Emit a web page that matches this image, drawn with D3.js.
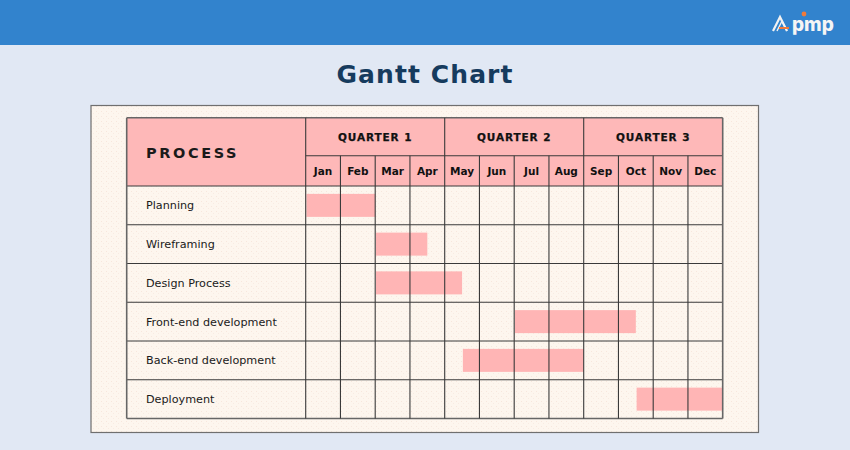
<!DOCTYPE html>
<html>
<head>
<meta charset="utf-8">
<script src="https://cdn.jsdelivr.net/npm/d3@7"></script>
<style>
  html, body { margin: 0; padding: 0; background: #E1E8F4; }
  svg { display: block; }
</style>
</head>
<body>
<svg id="chart" width="850" height="450"></svg>
<script>
// ---- data ----
const title = "Gantt Chart";
const headerLabel = "PROCESS";
const quarters = ["QUARTER 1", "QUARTER 2", "QUARTER 3"];
const months = ["Jan","Feb","Mar","Apr","May","Jun","Jul","Aug","Sep","Oct","Nov","Dec"];
const tasks = ["Planning","Wireframing","Design Process","Front-end development","Back-end development","Deployment"];
const taskStart = [0, 2, 2, 6, 4.5, 9.5];   // in months from Jan start
const taskEnd   = [2, 3.5, 4.5, 9.5, 8, 12];

// ---- layout ----
const svg = d3.select("#chart");
const W = 850, H = 450;
const colors = {
  band: "#3283CD", bg: "#E1E8F4", card: "#FDF6EE", header: "#FEB8B8",
  bar: "#FFB5B5", grid: "#3a3a3a", title: "#163B5E", text: "#1a1a1a"
};

svg.append("rect").attr("width", W).attr("height", H).attr("fill", colors.bg);
svg.append("rect").attr("width", W).attr("height", 45).attr("fill", colors.band);

// logo
const logo = svg.append("g").attr("transform", "translate(773,15)");
logo.append("path").attr("d", "M0,16 L7,2 L14,16").attr("fill", "none").attr("stroke", "#f2f2f2").attr("stroke-width", 2.2);
logo.append("path").attr("d", "M4,16 L9,6 L14,16").attr("fill", "none").attr("stroke", "#f2f2f2").attr("stroke-width", 1.4);
logo.append("rect").attr("x", 6).attr("y", 12).attr("width", 10).attr("height", 2).attr("fill", "#F07A3A");
logo.append("text").attr("x", 19).attr("y", 16).attr("fill", "#f5f5f5")
  .attr("font-family", "Inter, 'DejaVu Sans', sans-serif").attr("font-weight", 800)
  .attr("font-size", 19).text("pmp");
logo.append("circle").attr("cx", 31).attr("cy", -1).attr("r", 2.4).attr("fill", "#F07A3A");

// title
svg.append("text").attr("x", 425).attr("y", 83).attr("text-anchor", "middle")
  .attr("font-family", "'DejaVu Sans', sans-serif").attr("font-weight", 700)
  .attr("font-size", 25).attr("letter-spacing", 1.1).attr("fill", colors.title).text(title);

// card with dotted texture
const defs = svg.append("defs");
const pat = defs.append("pattern").attr("id", "dots").attr("width", 5).attr("height", 5)
  .attr("patternUnits", "userSpaceOnUse");
pat.append("rect").attr("width", 5).attr("height", 5).attr("fill", colors.card);
pat.append("rect").attr("x", 1).attr("y", 1).attr("width", 1).attr("height", 1).attr("fill", "#f7e6dc");
pat.append("rect").attr("x", 3).attr("y", 3).attr("width", 1).attr("height", 1).attr("fill", "#f8ebe2");

svg.append("rect").attr("x", 91).attr("y", 105.5).attr("width", 667.5).attr("height", 327)
  .attr("fill", "url(#dots)").attr("stroke", "#6f6f6f").attr("stroke-width", 1.2);

// table geometry
const tableLeft = 126.7, colX0 = 305.7, colX1 = 722.7;
const topY = 117.7, qBottom = 155.7, headBottom = 186, tableBottom = 418.5;

const x = d3.scaleLinear().domain([0, months.length]).range([colX0, colX1]);
const y = d3.scaleBand().domain(tasks).range([headBottom, tableBottom]);

// header fills
svg.append("rect").attr("x", tableLeft).attr("y", topY).attr("width", colX1 - tableLeft)
  .attr("height", headBottom - topY).attr("fill", colors.header);

// bars
svg.append("g").selectAll("rect").data(tasks).join("rect")
  .attr("x", (d, i) => x(taskStart[i]) + 0.8)
  .attr("width", (d, i) => x(taskEnd[i]) - x(taskStart[i]) - 0.8)
  .attr("y", d => y(d) + y.bandwidth() / 2 - 11.5)
  .attr("height", 23)
  .attr("fill", colors.bar);

// grid lines
const grid = svg.append("g").attr("stroke", colors.grid).attr("stroke-width", 1.1).attr("fill", "none");
grid.append("line").attr("x1", colX0).attr("x2", colX1).attr("y1", qBottom).attr("y2", qBottom);
const hLines = [topY, headBottom].concat(tasks.map(t => y(t) + y.bandwidth()));
grid.selectAll("line.h").data(hLines).join("line").attr("class", "h")
  .attr("x1", tableLeft).attr("x2", colX1).attr("y1", d => d).attr("y2", d => d)
  .attr("stroke", (d, i) => (i === 0 || i === hLines.length - 1) ? "#666" : colors.grid)
  .attr("stroke-width", (d, i) => (i === 0 || i === hLines.length - 1) ? 1.6 : 1.1);
grid.append("line").attr("x1", tableLeft).attr("x2", tableLeft).attr("y1", topY).attr("y2", tableBottom).attr("stroke", "#666").attr("stroke-width", 1.6);
const monthLines = d3.range(0, months.length + 1);
grid.selectAll("line.v").data(monthLines).join("line").attr("class", "v")
  .attr("x1", d => x(d)).attr("x2", d => x(d))
  .attr("y1", d => (d % 4 === 0) ? topY : qBottom).attr("y2", tableBottom)
  .attr("stroke", d => d === months.length ? "#666" : colors.grid)
  .attr("stroke-width", d => d === months.length ? 1.6 : 1.1);

// texts
const font = "'DejaVu Sans', Verdana, sans-serif";
svg.append("text").attr("x", 146).attr("y", 158).attr("font-family", font)
  .attr("font-weight", 700).attr("font-size", 14.5).attr("letter-spacing", 2.6)
  .attr("fill", colors.text).text(headerLabel);

svg.append("g").selectAll("text").data(quarters).join("text")
  .attr("x", (d, i) => (x(i * 4) + x(i * 4 + 4)) / 2)
  .attr("y", 140.5).attr("text-anchor", "middle").attr("font-family", font)
  .attr("font-weight", 700).attr("font-size", 10.5).attr("letter-spacing", 0.9)
  .attr("fill", "#111").attr("stroke", "#111").attr("stroke-width", 0.25).text(d => d);

svg.append("g").selectAll("text").data(months).join("text")
  .attr("x", (d, i) => x(i + 0.5)).attr("y", 175)
  .attr("text-anchor", "middle").attr("font-family", font)
  .attr("font-weight", 700).attr("font-size", 10.5)
  .attr("fill", "#111").text(d => d);

svg.append("g").selectAll("text").data(tasks).join("text")
  .attr("x", 146).attr("y", d => y(d) + y.bandwidth() / 2 + 4)
  .attr("font-family", font).attr("font-size", 11.2)
  .attr("fill", colors.text).text(d => d);
</script>
</body>
</html>
